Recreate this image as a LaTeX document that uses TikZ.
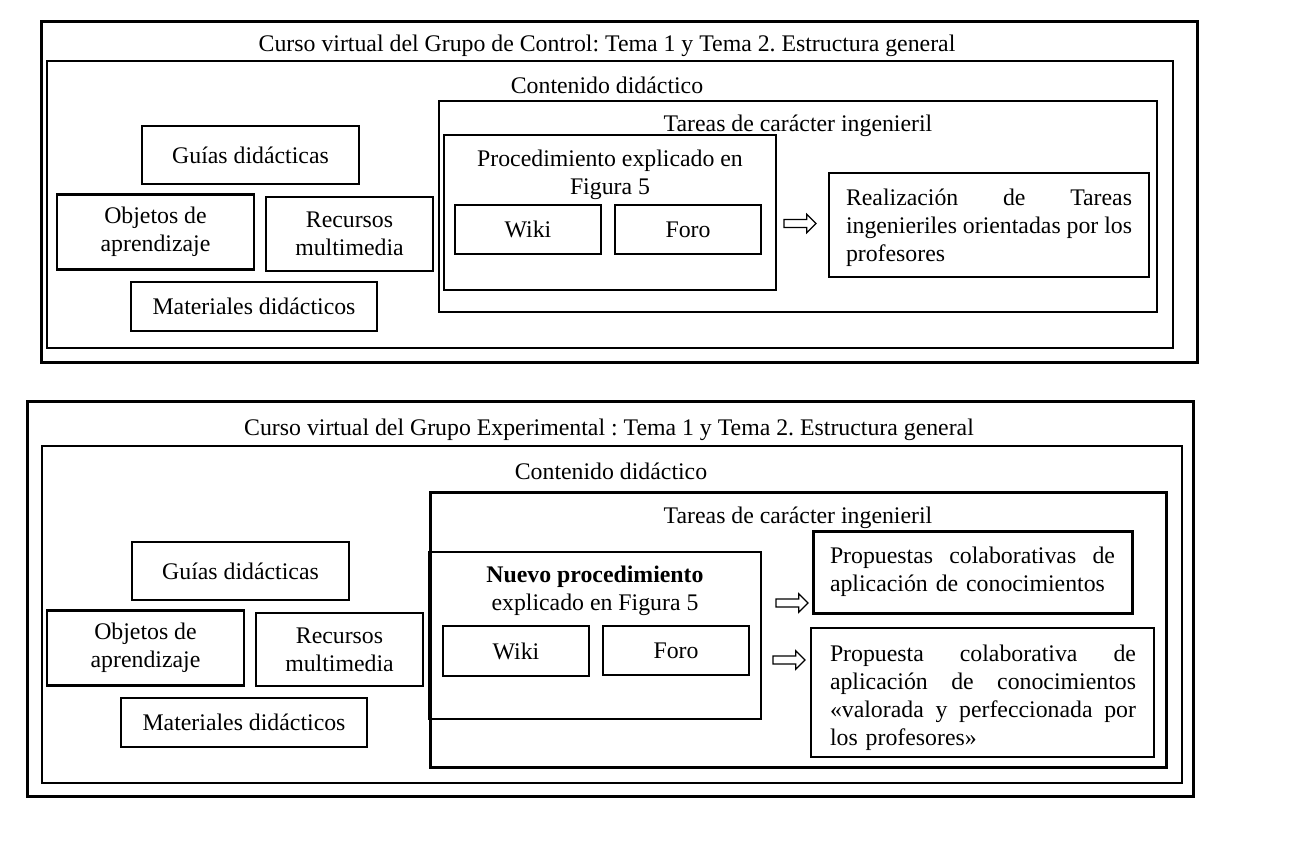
\documentclass[tikz,border=0pt]{standalone}
\usepackage{fontspec}
\setmainfont{Liberation Serif}
\usetikzlibrary{shapes.arrows}
\frenchspacing
\newcommand\jbox[2]{\leavevmode\hbox to #1{#2}}
\begin{document}
\begin{tikzpicture}[x=1pt,y=-1pt,
  every node/.style={font=\fontsize{23.8}{28}\selectfont, inner sep=0pt},
  frame/.style={draw, line width=3pt},
  cbox/.style={draw, line width=2pt},
  tbox/.style={draw, line width=2.6pt},
  sbox/.style={draw, line width=2.2pt, align=center},
  lbl/.style={anchor=base},
  jtext/.style={align=left},
  arr/.style={single arrow, draw, line width=1.3pt, inner xsep=0pt, inner ysep=3.3pt,
    minimum height=32pt, minimum width=17pt, single arrow head extend=5.2pt,
    single arrow head indent=0pt}]
\useasboundingbox (0,0) rectangle (1290,852);

% ---------------- top panel ----------------
\node[frame, minimum width=1156pt, minimum height=341pt] (outer1) at (619,191.5) {};
\node[lbl] (title1) at (607,51) {Curso virtual del Grupo de Control: Tema 1 y Tema 2. Estructura general};
\node[cbox, minimum width=1126pt, minimum height=287pt] (cont1) at (610,204.5) {};
\node[lbl] (conttxt1) at (607,93) {Contenido didáctico};

\node[sbox, line width=2.6pt, minimum width=217pt, minimum height=58pt] (guias1) at (250.5,155) {Guías didácticas};
\node[sbox, minimum width=197pt, minimum height=75pt] (objetos1) at (155.5,232) {Objetos de\\aprendizaje};
\node[sbox, minimum width=167pt, minimum height=74pt] (recursos1) at (349.5,234) {Recursos\\multimedia};
\node[sbox, line width=2.6pt, minimum width=246pt, minimum height=49pt] (materiales1) at (254,306.5) {Materiales didácticos};

\node[cbox, line width=2.3pt, minimum width=718pt, minimum height=211pt] (tareas1) at (798,206.5) {};
\node[lbl] (tareastxt1) at (798,131) {Tareas de carácter ingenieril};

\node[tbox, minimum width=332pt, minimum height=155pt] (proc1) at (610,212.5) {};
\node[align=center] (proctxt1) at (610,175) {Procedimiento explicado en\\Figura 5};
\node[sbox, minimum width=146pt, minimum height=49pt] (wiki1) at (528,229.5) {Wiki};
\node[sbox, minimum width=146pt, minimum height=49pt] (foro1) at (688,229.5) {Foro};

\node[arr] (arrow1) at (798,223.5) {};

\node[tbox, minimum width=320pt, minimum height=104pt] (real1) at (989,225) {};
\node[jtext, text width=286pt] (realtxt1) at (989,227.5)
  {\jbox{286pt}{Realización\hfill de\hfill Tareas}\\\jbox{286pt}{ingenieriles\hfill orientadas\hfill por\hfill los}\\profesores};

% ---------------- bottom panel ----------------
\node[frame, minimum width=1166pt, minimum height=395pt] (outer2) at (610.75,598.5) {};
\node[lbl] (title2) at (609,435) {Curso virtual del Grupo Experimental : Tema 1 y Tema 2. Estructura general};
\node[cbox, minimum width=1140pt, minimum height=337pt] (cont2) at (612,614.5) {};
\node[lbl] (conttxt2) at (611,479) {Contenido didáctico};

\node[sbox, line width=2.6pt, minimum width=217pt, minimum height=58pt] (guias2) at (240.5,571) {Guías didácticas};
\node[sbox, minimum width=197pt, minimum height=75pt] (objetos2) at (145.5,648) {Objetos de\\aprendizaje};
\node[sbox, minimum width=167pt, minimum height=73pt] (recursos2) at (339.5,649.5) {Recursos\\multimedia};
\node[sbox, line width=2.6pt, minimum width=246pt, minimum height=49pt] (materiales2) at (244,722.5) {Materiales didácticos};

\node[frame, minimum width=736pt, minimum height=275pt] (tareas2) at (798,629.5) {};
\node[lbl] (tareastxt2) at (798,523) {Tareas de carácter ingenieril};

\node[tbox, minimum width=332pt, minimum height=167pt] (nuevo2) at (595,635.5) {};
\node[align=center] (nuevotxt2) at (595,591) {\textbf{Nuevo procedimiento}\\explicado en Figura 5};
\node[sbox, minimum width=146pt, minimum height=50pt] (wiki2) at (516,651) {Wiki};
\node[sbox, minimum width=146pt, minimum height=49pt] (foro2) at (676,650.5) {Foro};

\node[arr] (arrow2) at (790,603) {};
\node[arr] (arrow3) at (787,660) {};

\node[frame, minimum width=319pt, minimum height=82pt] (prop1) at (972.5,572) {};
\node[jtext, text width=285pt] (proptxt1) at (972.5,571.5)
  {\jbox{285pt}{Propuestas\hfill colaborativas\hfill de}\\aplicación de conocimientos};

\node[tbox, minimum width=343pt, minimum height=129pt] (prop2) at (982.5,692.5) {};
\node[jtext, text width=306pt] (proptxt2) at (983,697.5)
  {\jbox{306pt}{Propuesta\hfill colaborativa\hfill de}\\\jbox{306pt}{aplicación\hfill de\hfill conocimientos}\\\jbox{306pt}{«valorada\hfill y\hfill perfeccionada\hfill por}\\los profesores»};
\end{tikzpicture}
\end{document}
